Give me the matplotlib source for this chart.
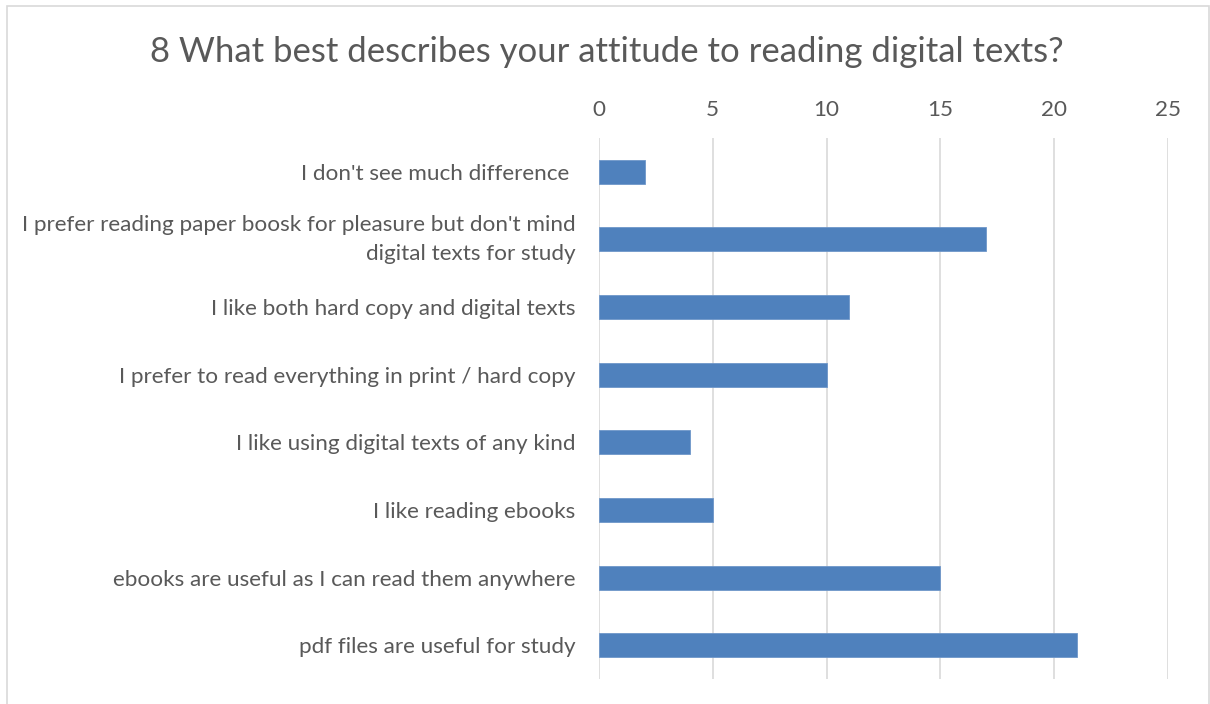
import matplotlib.pyplot as plt
import numpy as np

# survey question 8 responses
categories = [
    "I don't see much difference ",
    "I prefer reading paper boosk for pleasure but don't mind\ndigital texts for study",
    "I like both hard copy and digital texts",
    "I prefer to read everything in print / hard copy",
    "I like using digital texts of any kind",
    "I like reading ebooks",
    "ebooks are useful as I can read them anywhere",
    "pdf files are useful for study",
]
counts = [2, 17, 11, 10, 4, 5, 15, 21]
x_ticks = [0, 5, 10, 15, 20, 25]

title = "8 What best describes your attitude to reading digital texts?"

text_color = "#595959"
grid_color = "#d9d9d9"
bar_color = "#4f81bd"

plt.rcParams['font.family'] = ['Lato', 'DejaVu Sans']

fig = plt.figure(figsize=(12.1, 7.04), dpi=100)
ax = fig.add_axes([599 / 1210, 1 - 679 / 704, 569 / 1210, 541 / 704])

y = np.arange(len(categories))
ax.barh(y, counts, height=0.355, color=bar_color, edgecolor="#6f97c9",
        linewidth=0.6, zorder=3)

ax.set_ylim(len(categories) - 0.5, -0.5)
ax.set_xlim(0, 25)
ax.set_xticks(x_ticks)
ax.set_yticks(y)
ax.set_yticklabels(categories, linespacing=1.6)
# two-line labels sit centred on their bar
for lbl in ax.get_yticklabels():
    if "\n" in lbl.get_text():
        lbl.set_va("center")

ax.xaxis.tick_top()
ax.tick_params(axis='x', length=0, pad=13, labelsize=16.2, colors=text_color)
ax.tick_params(axis='y', length=0, pad=17, labelsize=16.2, colors=text_color)

ax.grid(axis='x', color=grid_color, linewidth=1.2, zorder=0)
ax.set_axisbelow(True)
for s in ax.spines.values():
    s.set_visible(False)

fig.text(0.5015, 1 - 52 / 704, title, ha='center', va='center',
         fontsize=25, color=text_color)

# outer chart border
border = plt.Rectangle((7 / 1210, -0.01), 1202 / 1210, 1 - 6 / 704 + 0.01,
                       transform=fig.transFigure, fill=False,
                       edgecolor=grid_color, linewidth=1.2)
fig.patches.append(border)

fig.savefig("out.png", dpi=100)
